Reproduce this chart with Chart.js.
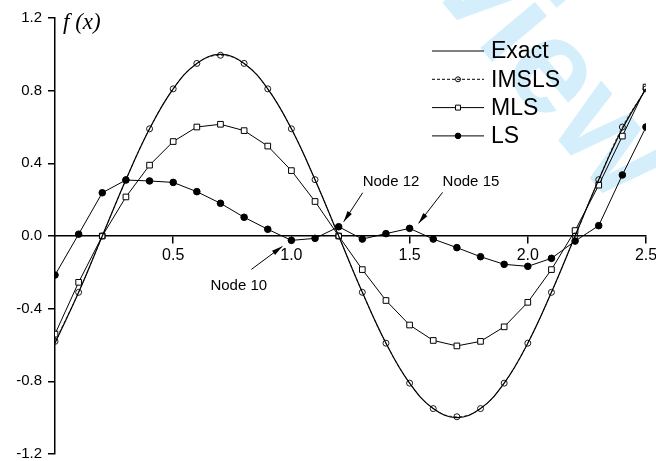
<!DOCTYPE html>
<html>
<head>
<meta charset="utf-8">
<script src="https://cdn.jsdelivr.net/npm/chart.js@4.4.0/dist/chart.umd.min.js"></script>
<style>
body{margin:0;background:#fff;}
canvas{display:block;}
</style>
</head>
<body>
<canvas id="chart" width="656" height="461"></canvas>
<script>
// node positions (x) and values
const nodeX = [0.0,0.1,0.2,0.3,0.4,0.5,0.6,0.7,0.8,0.9,1.0,1.1,1.2,1.3,1.4,1.5,1.6,1.7,1.8,1.9,2.0,2.1,2.2,2.3,2.4,2.5];

const exactY = [-0.59,-0.31,0.00,0.31,0.59,0.81,0.95,1.00,0.95,0.81,0.59,0.31,0.00,-0.31,-0.59,-0.81,-0.95,-1.00,-0.95,-0.81,-0.59,-0.31,0.00,0.31,0.59,0.81];
const imslsY = [-0.58,-0.31,0.00,0.31,0.59,0.81,0.95,0.995,0.95,0.81,0.59,0.31,0.00,-0.31,-0.59,-0.81,-0.95,-0.995,-0.95,-0.81,-0.59,-0.31,0.00,0.31,0.60,0.81];
const mlsY   = [-0.54,-0.255,0.00,0.215,0.39,0.52,0.60,0.615,0.58,0.495,0.36,0.19,0.00,-0.185,-0.355,-0.49,-0.575,-0.605,-0.58,-0.50,-0.365,-0.185,0.03,0.28,0.55,0.82];
const lsY    = [-0.215,0.01,0.238,0.308,0.303,0.295,0.244,0.18,0.103,0.037,-0.024,-0.013,0.051,-0.017,0.013,0.042,-0.017,-0.064,-0.114,-0.156,-0.167,-0.123,-0.028,0.057,0.336,0.60];

const seriesNames = ['Exact','IMSLS','MLS','LS'];
const xTicks = [0.5,1.0,1.5,2.0,2.5];
const yTicks = [-1.2,-0.8,-0.4,0.0,0.4,0.8,1.2];

const noteNodes  = [10,12,15];
const noteLabels = ['Node 10','Node 12','Node 15'];

const FONT = 'Liberation Sans, Arial, Helvetica, sans-serif';

function toPoints(values){
    return nodeX.map((x,i) => ({x: x, y: values[i]}));
}

// light blue watermark behind everything
const watermark = {
    id: 'watermark',
    beforeDraw(chart){
        const ctx = chart.ctx;
        ctx.save();
        ctx.fillStyle = 'rgb(212,238,251)';
        ctx.font = 'bold 135px ' + FONT;
        ctx.translate(426, -17);
        ctx.rotate(50 * Math.PI / 180);
        ctx.textBaseline = 'alphabetic';
        ctx.fillText('view', 0, 0);
        ctx.restore();
    }
};

// legend with line + marker, like the original
const lineLegend = {
    id: 'lineLegend',
    afterDraw(chart){
        const ctx = chart.ctx;
        ctx.save();
        chart.data.datasets.forEach((ds,i) => {
            const y = 51 + i*28.3;
            ctx.beginPath();
            ctx.setLineDash(ds.borderDash || []);
            ctx.lineWidth = 1;
            ctx.strokeStyle = '#000';
            ctx.moveTo(432, y);
            ctx.lineTo(484, y);
            ctx.stroke();
            ctx.setLineDash([]);
            if(ds.pointRadius > 0){
                ctx.fillStyle = ds.pointBackgroundColor;
                ctx.strokeStyle = '#000';
                ctx.lineWidth = 1;
                Chart.helpers.drawPoint(ctx, {pointStyle: ds.pointStyle, radius: ds.pointRadius - 0.5, borderWidth: 1, rotation: 0}, 458, y);
            }
            ctx.fillStyle = '#000';
            ctx.font = '23px ' + FONT;
            ctx.textBaseline = 'middle';
            ctx.fillText(ds.label, 491, y + 1);
        });

        // f(x) axis label
        ctx.font = 'italic 23px "Liberation Serif", "Times New Roman", serif';
        ctx.textBaseline = 'middle';
        ctx.fillText('f (x)', 63, 23);
        ctx.restore();
    }
};

// node labels with arrows pointing at LS nodes
const nodeNotes = {
    id: 'nodeNotes',
    afterDatasetsDraw(chart){
        const ctx = chart.ctx;
        const xs = chart.scales.x, ys = chart.scales.y;
        // tail / tip offsets and text position relative to the node
        const layout = [
            {tail:[-40, 29], tip:[-9, 6], text:[-81, 45]},
            {tail:[24, -34], tip:[5, -5], text:[24, -45]},
            {tail:[33, -36], tip:[9, -5], text:[33, -47]}
        ];
        ctx.save();
        noteNodes.forEach((n,i) => {
            const px = xs.getPixelForValue(nodeX[n]);
            const py = ys.getPixelForValue(lsY[n]);
            const l = layout[i];
            const x1 = px + l.tail[0], y1 = py + l.tail[1];
            const x2 = px + l.tip[0],  y2 = py + l.tip[1];
            ctx.strokeStyle = '#000';
            ctx.fillStyle = '#000';
            ctx.lineWidth = 1;
            ctx.beginPath();
            ctx.moveTo(x1, y1);
            ctx.lineTo(x2, y2);
            ctx.stroke();
            const a = Math.atan2(y2 - y1, x2 - x1);
            const len = 11, w = 2.6;
            ctx.beginPath();
            ctx.moveTo(x2, y2);
            ctx.lineTo(x2 - len*Math.cos(a) + w*Math.sin(a), y2 - len*Math.sin(a) - w*Math.cos(a));
            ctx.lineTo(x2 - len*Math.cos(a) - w*Math.sin(a), y2 - len*Math.sin(a) + w*Math.cos(a));
            ctx.closePath();
            ctx.fill();
            ctx.font = '15px ' + FONT;
            ctx.textBaseline = 'middle';
            ctx.fillText(noteLabels[i], px + l.text[0], py + l.text[1]);
        });
        ctx.restore();
    }
};

const chart = new Chart(document.getElementById('chart'), {
    type: 'line',
    data: {
        datasets: [{
            label: seriesNames[0],
            data: toPoints(exactY),
            borderColor: '#000',
            borderWidth: 1.2,
            pointRadius: 0,
            tension: 0.4
        },{
            label: seriesNames[1],
            data: toPoints(imslsY),
            borderColor: '#555',
            borderWidth: 1,
            borderDash: [3,2],
            pointStyle: 'circle',
            pointRadius: 3,
            pointBackgroundColor: 'rgba(255,255,255,0)',
            pointBorderColor: '#000',
            pointBorderWidth: 0.9,
            tension: 0.4
        },{
            label: seriesNames[2],
            data: toPoints(mlsY),
            borderColor: '#000',
            borderWidth: 1,
            pointStyle: 'rect',
            pointRadius: 4,
            pointBackgroundColor: '#fff',
            pointBorderColor: '#000',
            pointBorderWidth: 1
        },{
            label: seriesNames[3],
            data: toPoints(lsY),
            borderColor: '#000',
            borderWidth: 1,
            pointStyle: 'circle',
            pointRadius: 3.3,
            pointBackgroundColor: '#000',
            pointBorderColor: '#000',
            pointBorderWidth: 1
        }]
    },
    options: {
        responsive: false,
        animation: false,
        layout: {padding: {left: 0, top: 18, right: 10, bottom: 7}},
        plugins: {
            legend: {display: false},
            tooltip: {enabled: false}
        },
        scales: {
            x: {
                type: 'linear',
                min: 0,
                max: 2.5,
                position: {y: 0},
                border: {color: '#000', width: 1.5},
                grid: {drawOnChartArea: false, drawTicks: true, tickLength: 7, color: '#000', lineWidth: 1.5},
                ticks: {color: '#000', font: {family: FONT, size: 16}, padding: 3, maxRotation: 0,
                        callback: v => Number(v).toFixed(1)},
                afterBuildTicks: s => { s.ticks = xTicks.map(v => ({value: v})); },
                afterFit: s => { s.paddingLeft = 0; s.paddingRight = 0; s.paddingTop = 0; s.paddingBottom = 0; }
            },
            y: {
                type: 'linear',
                min: -1.2,
                max: 1.2,
                position: 'left',
                border: {color: '#000', width: 1.5},
                grid: {drawOnChartArea: false, drawTicks: true, tickLength: 7, color: '#000', lineWidth: 1.5},
                ticks: {color: '#000', font: {family: FONT, size: 15}, padding: 6,
                        callback: v => Number(v).toFixed(1)},
                afterBuildTicks: s => { s.ticks = yTicks.map(v => ({value: v})); },
                afterFit: s => { s.width = 55; s.paddingTop = 0; s.paddingBottom = 0; }
            }
        }
    },
    plugins: [watermark, lineLegend, nodeNotes]
});
</script>
</body>
</html>
